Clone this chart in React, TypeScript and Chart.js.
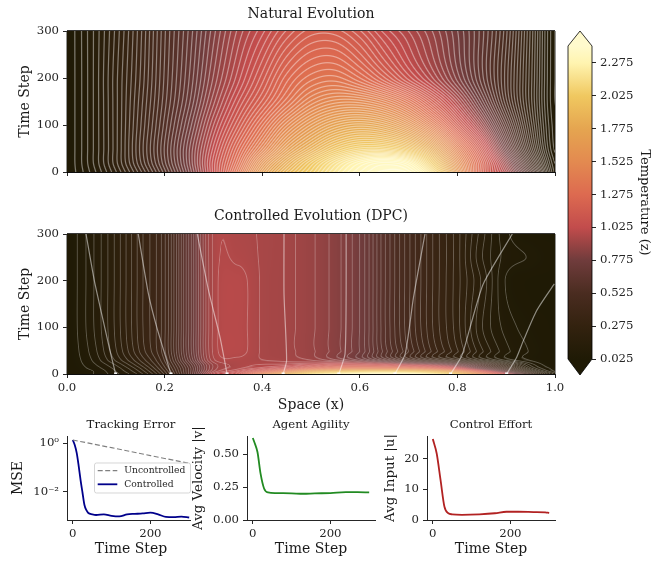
import React, { useEffect, useRef } from "react";
import { Chart, registerables } from "chart.js";

Chart.register(...registerables);

const W = 651;
const H = 561;
const FONT = "'DejaVu Serif', 'Liberation Serif', serif";
const INK = "#262626";

// ---------- field grids (columns at space positions, one row per time step) ----------
const spaceCols = [0, 0.05, 0.1, 0.15, 0.2, 0.25, 0.3, 0.35, 0.4, 0.45, 0.5, 0.55, 0.6, 0.65, 0.7, 0.75, 0.8, 0.85, 0.9, 0.95, 1];

const naturalTimes = [0, 20, 50, 100, 150, 200, 300];
const natural000 = [0.03, 0.11, 0.23, 0.38, 0.56, 0.78, 1.05, 1.35, 1.68, 1.9, 2.06, 2.22, 2.34, 2.4, 2.38, 2.15, 1.65, 1.22, 0.95, 0.55, 0.12];
const natural020 = [0.03, 0.12, 0.25, 0.41, 0.59, 0.8, 1.05, 1.3, 1.6, 1.82, 2.0, 2.16, 2.28, 2.34, 2.28, 2.02, 1.58, 1.22, 0.88, 0.46, 0.1];
const natural050 = [0.03, 0.12, 0.25, 0.42, 0.6, 0.8, 1.02, 1.24, 1.46, 1.68, 1.84, 1.98, 2.06, 2.06, 1.98, 1.78, 1.44, 1.12, 0.74, 0.36, 0.07];
const natural100 = [0.03, 0.12, 0.25, 0.41, 0.58, 0.76, 0.96, 1.14, 1.32, 1.5, 1.64, 1.74, 1.78, 1.74, 1.62, 1.42, 1.16, 0.9, 0.6, 0.3, 0.06];
const natural150 = [0.03, 0.12, 0.25, 0.4, 0.56, 0.72, 0.9, 1.06, 1.2, 1.34, 1.46, 1.52, 1.52, 1.46, 1.34, 1.16, 0.96, 0.74, 0.5, 0.27, 0.05];
const natural200 = [0.03, 0.12, 0.25, 0.39, 0.55, 0.7, 0.86, 1.0, 1.13, 1.26, 1.34, 1.36, 1.3, 1.2, 1.08, 0.96, 0.82, 0.66, 0.48, 0.27, 0.05];
const natural300 = [0.03, 0.12, 0.24, 0.38, 0.54, 0.68, 0.82, 0.94, 1.03, 1.12, 1.18, 1.18, 1.12, 1.03, 0.96, 0.88, 0.78, 0.66, 0.5, 0.28, 0.05];

const controlledTimes = [0, 6, 12, 20, 30, 50, 100, 200, 250, 300];
const controlled000 = [0.03, 0.05, 0.1, 0.18, 0.34, 0.62, 0.98, 1.12, 1.5, 1.85, 2.15, 2.3, 2.36, 2.4, 2.38, 2.25, 2.0, 1.5, 1.05, 0.45, 0.1];
const controlled006 = [0.03, 0.05, 0.11, 0.2, 0.36, 0.62, 0.92, 1.02, 1.2, 1.45, 1.75, 1.9, 2.0, 2.02, 1.98, 1.85, 1.6, 1.15, 0.7, 0.25, 0.05];
const controlled012 = [0.03, 0.06, 0.12, 0.22, 0.38, 0.62, 0.9, 0.97, 1.03, 1.12, 1.28, 1.38, 1.42, 1.42, 1.4, 1.3, 1.1, 0.75, 0.45, 0.15, 0.04];
const controlled020 = [0.03, 0.07, 0.14, 0.25, 0.4, 0.64, 0.9, 0.96, 0.98, 0.99, 1.03, 1.08, 1.08, 1.05, 0.98, 0.9, 0.75, 0.55, 0.3, 0.1, 0.03];
const controlled030 = [0.03, 0.08, 0.17, 0.28, 0.42, 0.68, 0.94, 0.97, 0.95, 0.94, 0.92, 0.87, 0.8, 0.68, 0.54, 0.42, 0.32, 0.2, 0.1, 0.05, 0.03];
const controlled050 = [0.03, 0.09, 0.19, 0.31, 0.44, 0.7, 0.955, 0.99, 0.945, 0.93, 0.9, 0.85, 0.78, 0.63, 0.5, 0.38, 0.28, 0.17, 0.09, 0.05, 0.03];
const controlled100 = [0.03, 0.1, 0.2, 0.32, 0.44, 0.7, 0.955, 0.99, 0.945, 0.93, 0.9, 0.85, 0.78, 0.62, 0.48, 0.36, 0.26, 0.14, 0.07, 0.04, 0.03];
const controlled200 = [0.03, 0.1, 0.2, 0.32, 0.44, 0.7, 0.955, 0.99, 0.945, 0.93, 0.9, 0.85, 0.78, 0.62, 0.48, 0.36, 0.26, 0.16, 0.05, 0.03, 0.03];
const controlled250 = [0.03, 0.1, 0.2, 0.32, 0.44, 0.7, 0.955, 0.97, 0.945, 0.93, 0.9, 0.85, 0.78, 0.62, 0.48, 0.36, 0.26, 0.14, 0.07, 0.05, 0.03];
const controlled300 = [0.03, 0.1, 0.2, 0.32, 0.44, 0.7, 0.955, 0.96, 0.945, 0.93, 0.9, 0.85, 0.78, 0.62, 0.48, 0.36, 0.26, 0.15, 0.06, 0.03, 0.03];

// ---------- agent trajectories ----------
const agent1T = [0, 50, 129, 200, 300];
const agent1X = [0.0997, 0.088, 0.071, 0.056, 0.039];
const agent2T = [0, 100, 171, 300];
const agent2X = [0.213, 0.184, 0.167, 0.146];
const agent3T = [0, 79, 179, 300];
const agent3X = [0.328, 0.3135, 0.29, 0.267];
const agent4T = [0, 29, 171, 300];
const agent4X = [0.443, 0.45, 0.4447, 0.4447];
const agent5T = [0, 43, 171, 300];
const agent5X = [0.557, 0.5697, 0.572, 0.572];
const agent6T = [0, 43, 164, 300];
const agent6X = [0.672, 0.693, 0.71, 0.7336];
const agent7T = [0, 39, 100, 193, 300];
const agent7X = [0.786, 0.809, 0.826, 0.853, 0.9125];
const agent8T = [0, 36, 71, 136, 193];
const agent8X = [0.901, 0.9215, 0.935, 0.9625, 0.9986];

// ---------- colour bar ----------
const cbarTicks = [0.025, 0.275, 0.525, 0.775, 1.025, 1.275, 1.525, 1.775, 2.025, 2.275];
const cbarMin = 0.025;
const cbarMax = 2.404;
const cmapValues = [0.025, 0.275, 0.525, 0.775, 1.025, 1.275, 1.525, 1.775, 2.025, 2.275, 2.404];
const cmapColours = [
  [31, 26, 5], [51, 34, 15], [74, 44, 32], [112, 60, 60], [194, 76, 76], [221, 106, 80],
  [227, 138, 80], [229, 165, 80], [240, 200, 96], [255, 244, 176], [255, 250, 205],
];

// ---------- small panels ----------
const mseT = [0, 5, 10, 15, 20, 25, 30, 35, 40, 50, 60, 80, 100, 120, 140, 160, 180, 200, 220, 240, 260, 280, 300];
const mseControlled = [1.37, 0.85, 0.4, 0.12, 0.03, 0.009, 0.0028, 0.0017, 0.0013, 0.00115, 0.00108, 0.00115, 0.001, 0.00095, 0.00115, 0.0012, 0.00125, 0.00135, 0.00115, 0.0009, 0.00088, 0.00093, 0.00085];
const mseUncontrolledT = [0, 100, 200, 300];
const mseUncontrolled = [1.37, 0.66, 0.31, 0.148];
const agilityT = [0, 5, 12, 20, 29, 39, 60, 100, 130, 160, 200, 240, 270, 300];
const agility = [0.625, 0.585, 0.518, 0.353, 0.24, 0.21, 0.205, 0.203, 0.2, 0.203, 0.205, 0.212, 0.212, 0.21];
const effortT = [0, 10, 20, 30, 40, 50, 75, 120, 160, 190, 220, 260, 290, 300];
const effort = [26.4, 21.7, 13, 4.3, 2.2, 1.85, 1.7, 1.85, 2.2, 2.7, 2.7, 2.6, 2.5, 2.3];

function zip(xs: number[], ys: number[]) {
  return xs.map((x, i) => ({ x, y: ys[i] }));
}

function colourOf(v: number): number[] {
  if (v <= cmapValues[0]) return cmapColours[0];
  for (let i = 1; i < cmapValues.length; i++) {
    if (v <= cmapValues[i]) {
      const f = (v - cmapValues[i - 1]) / (cmapValues[i] - cmapValues[i - 1]);
      const a = cmapColours[i - 1];
      const b = cmapColours[i];
      return [a[0] + (b[0] - a[0]) * f, a[1] + (b[1] - a[1]) * f, a[2] + (b[2] - a[2]) * f];
    }
  }
  return cmapColours[cmapColours.length - 1];
}

function sampleRow(row: number[], x: number) {
  const n = row.length - 1;
  const u = Math.min(Math.max(x, 0), 1) * n;
  const i = Math.min(Math.floor(u), n - 1);
  const f = u - i;
  const p0 = row[Math.max(i - 1, 0)];
  const p1 = row[i];
  const p2 = row[i + 1];
  const p3 = row[Math.min(i + 2, n)];
  return p1 + 0.5 * f * (p2 - p0 + f * (2 * p0 - 5 * p1 + 4 * p2 - p3 + f * (3 * (p1 - p2) + p3 - p0)));
}

function sampleField(times: number[], rows: number[][], x: number, t: number) {
  const n = times.length - 1;
  const tc = Math.min(Math.max(t, times[0]), times[n]);
  let i = 0;
  while (i < n - 1 && tc > times[i + 1]) i++;
  const h = times[i + 1] - times[i];
  const s = (tc - times[i]) / h;
  const z = (k: number) => sampleRow(rows[k], x);
  const z1 = z(i);
  const z2 = z(i + 1);
  const m1 = i > 0 ? (z2 - z(i - 1)) / (times[i + 1] - times[i - 1]) : (z2 - z1) / h;
  const m2 = i + 2 <= n ? (z(i + 2) - z1) / (times[i + 2] - times[i]) : (z2 - z1) / h;
  const s2 = s * s;
  const s3 = s2 * s;
  return (2 * s3 - 3 * s2 + 1) * z1 + (s3 - 2 * s2 + s) * h * m1 + (-2 * s3 + 3 * s2) * z2 + (s3 - s2) * h * m2;
}

function heatPlugin(id: string, times: number[], rows: number[][], lineAlpha: number, step: number, lineReach: number) {
  return {
    id,
    beforeDatasetsDraw(chart: any) {
      const { left, top, right, bottom } = chart.chartArea;
      const w = Math.round(right - left);
      const h = Math.round(bottom - top);
      const xs = chart.scales.x;
      const ys = chart.scales.y;
      const f = new Float32Array((w + 1) * (h + 1));
      for (let j = 0; j <= h; j++) {
        const t = ys.getValueForPixel(top + j + 0.5);
        for (let i = 0; i <= w; i++) {
          f[j * (w + 1) + i] = sampleField(times, rows, xs.getValueForPixel(left + i + 0.5), t);
        }
      }
      const off = document.createElement("canvas");
      off.width = w;
      off.height = h;
      const octx = off.getContext("2d")!;
      const img = octx.createImageData(w, h);
      for (let j = 0; j < h; j++) {
        for (let i = 0; i < w; i++) {
          const v = f[j * (w + 1) + i];
          const gx = f[j * (w + 1) + i + 1] - v;
          const gy = f[(j + 1) * (w + 1) + i] - v;
          const grad = Math.sqrt(gx * gx + gy * gy) + 1e-5;
          const q = (v - 0.025) / step;
          const d = Math.abs(q - Math.round(q)) * step;
          const dist = d / grad;
          const cov = Math.max(0, Math.min(1, lineReach - dist));
          const a = lineAlpha * cov;
          const c = colourOf(v);
          const o = (j * w + i) * 4;
          img.data[o] = c[0] + (255 - c[0]) * a;
          img.data[o + 1] = c[1] + (255 - c[1]) * a;
          img.data[o + 2] = c[2] + (255 - c[2]) * a;
          img.data[o + 3] = 255;
        }
      }
      octx.putImageData(img, 0, 0);
      chart.ctx.drawImage(off, left, top, right - left, bottom - top);
    },
  };
}

const framePlugin = {
  id: "frame",
  afterDraw(chart: any) {
    const { left, top, right, bottom } = chart.chartArea;
    const c = chart.ctx;
    c.save();
    c.lineWidth = 1;
    const seg = (x1: number, y1: number, x2: number, y2: number, col: string) => {
      c.strokeStyle = col;
      c.beginPath();
      c.moveTo(x1, y1);
      c.lineTo(x2, y2);
      c.stroke();
    };
    seg(left, top - 0.5, right, top - 0.5, "rgba(20,20,20,0.85)");
    seg(left, bottom + 0.5, right, bottom + 0.5, "rgba(0,0,0,0.95)");
    seg(left - 0.5, top, left - 0.5, bottom, "rgba(60,60,60,0.55)");
    seg(right + 0.5, top, right + 0.5, bottom, "rgba(60,60,60,0.55)");
    c.restore();
  },
};

const legendPlugin = {
  id: "panelLegend",
  afterDraw(chart: any) {
    const c = chart.ctx;
    const { right, bottom } = chart.chartArea;
    c.save();
    c.clearRect(190.5, bottom - 2, right - 190 + 2, 4);
    c.fillStyle = "rgba(255,255,255,0.8)";
    c.strokeStyle = "rgba(204,204,204,0.8)";
    c.lineWidth = 1;
    c.beginPath();
    c.roundRect(94.5, 463, 96, 30, 2);
    c.fill();
    c.stroke();
    const rows = [470.7, 484.3];
    chart.data.datasets.forEach((ds: any, i: number) => {
      c.strokeStyle = ds.borderColor;
      c.lineWidth = ds.borderWidth;
      c.setLineDash(ds.borderDash || []);
      c.beginPath();
      c.moveTo(97.7, rows[i]);
      c.lineTo(117.3, rows[i]);
      c.stroke();
      c.setLineDash([]);
      c.fillStyle = INK;
      c.font = `9.2px ${FONT}`;
      c.textBaseline = "middle";
      c.fillText(ds.label, 124.3, rows[i]);
    });
    c.restore();
  },
};

const tipsPlugin = {
  id: "cbarTips",
  afterDraw(chart: any) {
    const { left, top, right, bottom } = chart.chartArea;
    const mid = (left + right) / 2;
    const c = chart.ctx;
    c.save();
    const hi = cmapColours[cmapColours.length - 1];
    const lo = cmapColours[0];
    c.fillStyle = `rgb(${hi.join(",")})`;
    c.beginPath();
    c.moveTo(left, top);
    c.lineTo(mid, 31);
    c.lineTo(right, top);
    c.closePath();
    c.fill();
    c.fillStyle = `rgb(${lo.join(",")})`;
    c.beginPath();
    c.moveTo(left, bottom);
    c.lineTo(mid, 375);
    c.lineTo(right, bottom);
    c.closePath();
    c.fill();
    c.strokeStyle = "#000";
    c.lineWidth = 0.8;
    c.beginPath();
    c.moveTo(left, top);
    c.lineTo(mid, 31);
    c.lineTo(right, top);
    c.lineTo(right, bottom);
    c.lineTo(mid, 375);
    c.lineTo(left, bottom);
    c.closePath();
    c.stroke();
    c.restore();
  },
};

function fitY(width: number) {
  return (s: any) => {
    s.width = width;
    s.paddingTop = 0;
    s.paddingBottom = 0;
    s.paddingLeft = 0;
    s.paddingRight = 0;
  };
}
function fitX(height: number) {
  return (s: any) => {
    s.height = height;
    s.paddingLeft = 0;
    s.paddingRight = 0;
    s.paddingTop = 0;
    s.paddingBottom = 0;
  };
}
function setTicks(values: number[]) {
  return (s: any) => {
    s.ticks = values.map((value) => ({ value }));
  };
}

const tickGrid = { display: true, drawOnChartArea: false, drawTicks: true, tickLength: 4, tickColor: INK, lineWidth: 1 };
const TICK_SIZE = 11.7;

function titleOpt(text: string, size: number, bottom: number) {
  return {
    display: true,
    text,
    fullSize: false,
    color: "#1a1a1a",
    font: { family: FONT, size, weight: "normal" },
    padding: { top: 0, bottom },
  };
}
function axisTitle(text: string, size = 14, bottom = 0) {
  return { display: true, text, color: "#1a1a1a", font: { family: FONT, size }, padding: { top: 0, bottom } };
}

function heatConfig(opts: any) {
  const { title, titlePadTop, titleBottom, bottom, xH, showXLabels, xTitle, times, rows, lineAlpha, step, lineReach, agents } = opts;
  const cells: any[] = [];
  times.forEach((t: number, r: number) => spaceCols.forEach((x, c) => cells.push({ x, y: t, v: rows[r][c] })));
  return {
    type: "scatter",
    data: {
      datasets: [
        { label: "field", data: cells, pointRadius: 0, showLine: false },
        ...agents.map(([xs, ts]: number[][]) => ({
          label: "agent",
          data: zip(xs, ts),
          showLine: true,
          borderColor: "rgba(255,255,255,0.5)",
          borderWidth: 1.2,
          tension: 0.2,
          pointRadius: (c: any) => (c.dataIndex === 0 ? 2.2 : 0),
          pointStyle: "rect",
          pointBackgroundColor: "rgba(255,255,255,0.95)",
          pointBorderWidth: 0,
        })),
      ],
    },
    options: {
      responsive: false,
      animation: false,
      devicePixelRatio: 1,
      layout: { padding: { left: 17, right: W - 555, top: titlePadTop, bottom: H - bottom - xH } },
      plugins: { legend: { display: false }, tooltip: { enabled: false }, title: titleOpt(title, 14, titleBottom) },
      scales: {
        x: {
          type: "linear",
          min: 0,
          max: 1,
          afterFit: fitX(xH),
          afterBuildTicks: setTicks([0, 0.2, 0.4, 0.6, 0.8, 1]),
          grid: tickGrid,
          border: { display: false },
          ticks: { display: showXLabels, color: INK, font: { family: FONT, size: TICK_SIZE }, padding: 3, maxRotation: 0, autoSkip: false, callback: (v: any) => Number(v).toFixed(1) },
          title: xTitle ? axisTitle(xTitle) : { display: false },
        },
        y: {
          type: "linear",
          min: 0,
          max: 300,
          afterFit: fitY(50),
          afterBuildTicks: setTicks([0, 100, 200, 300]),
          grid: tickGrid,
          border: { display: false },
          ticks: { color: INK, font: { family: FONT, size: TICK_SIZE }, padding: 4, autoSkip: false, callback: (v: any) => String(v) },
          title: axisTitle("Time Step"),
        },
      },
    },
    plugins: [heatPlugin(opts.id, times, rows, lineAlpha, step, lineReach), framePlugin],
  };
}

function panelConfig(opts: any) {
  const { title, left, right, yW, xMin, xMax, y, yLabel, yLabelSize, datasets, plugins } = opts;
  return {
    type: "line",
    data: { datasets },
    options: {
      responsive: false,
      animation: false,
      devicePixelRatio: 1,
      layout: { padding: { left: left - yW, right: W - right, top: 417.5, bottom: 1 } },
      plugins: { legend: { display: false }, tooltip: { enabled: false }, title: titleOpt(title, 11.7, 4.5) },
      scales: {
        x: {
          type: "linear",
          min: xMin,
          max: xMax,
          afterFit: fitX(40),
          afterBuildTicks: setTicks([0, 200]),
          grid: tickGrid,
          border: { display: true, color: INK, width: 1 },
          ticks: { color: INK, font: { family: FONT, size: TICK_SIZE }, padding: 3, maxRotation: 0, autoSkip: false, callback: (v: any) => String(v) },
          title: axisTitle("Time Step", 14, 2),
        },
        y: {
          afterFit: fitY(yW),
          grid: tickGrid,
          border: { display: true, color: INK, width: 1 },
          title: axisTitle(yLabel, yLabelSize || 14),
          ...y,
          ticks: { color: INK, font: { family: FONT, size: TICK_SIZE }, padding: 4, autoSkip: false, ...y.ticks },
        },
      },
    },
    plugins: plugins || [],
  };
}

function line(label: string, xs: number[], ys: number[], color: string, extra: any = {}) {
  return { label, data: zip(xs, ys), borderColor: color, borderWidth: 1.8, pointRadius: 0, cubicInterpolationMode: "monotone", ...extra };
}

const cbarConfig: any = {
  type: "bar",
  data: {
    labels: ["z"],
    datasets: [
      {
        label: "Temperature",
        data: [[cbarMin, cbarMax]],
        barPercentage: 1,
        categoryPercentage: 1,
        borderWidth: 0,
        backgroundColor: (c: any) => {
          const area = c.chart.chartArea;
          if (!area) return "#888";
          const g = c.chart.ctx.createLinearGradient(0, area.bottom, 0, area.top);
          cmapValues.forEach((v, i) => {
            g.addColorStop((v - cbarMin) / (cbarMax - cbarMin), `rgb(${cmapColours[i].join(",")})`);
          });
          return g;
        },
      },
    ],
  },
  options: {
    responsive: false,
    animation: false,
    devicePixelRatio: 1,
    layout: { padding: { left: 568, right: 0, top: 46, bottom: H - 359 } },
    plugins: { legend: { display: false }, tooltip: { enabled: false } },
    scales: {
      x: { display: false },
      y: {
        position: "right",
        min: cbarMin,
        max: cbarMax,
        afterFit: fitY(W - 592),
        afterBuildTicks: setTicks(cbarTicks),
        grid: tickGrid,
        border: { display: false },
        ticks: { color: INK, font: { family: FONT, size: TICK_SIZE }, padding: 4, autoSkip: false, callback: (v: any) => Number(v).toFixed(3) },
        title: { display: true, text: "Temperature (z)", color: "#1a1a1a", font: { family: FONT, size: 13, lineHeight: 1 }, padding: 0 },
      },
    },
  },
  plugins: [tipsPlugin],
};

function buildConfigs(): any[] {
  return [
    heatConfig({
      id: "heatNatural",
      title: "Natural Evolution",
      titlePadTop: 6.2,
      titleBottom: 8,
      bottom: 172,
      xH: 10,
      showXLabels: false,
      times: naturalTimes,
      rows: [natural000, natural020, natural050, natural100, natural150, natural200, natural300],
      lineAlpha: 0.42,
      step: 0.026,
      lineReach: 1.1,
      agents: [],
    }),
    heatConfig({
      id: "heatControlled",
      title: "Controlled Evolution (DPC)",
      titlePadTop: 208.2,
      titleBottom: 9,
      bottom: 374,
      xH: 40,
      showXLabels: true,
      xTitle: "Space (x)",
      times: controlledTimes,
      rows: [controlled000, controlled006, controlled012, controlled020, controlled030, controlled050, controlled100, controlled200, controlled250, controlled300],
      lineAlpha: 0.3,
      step: 0.028,
      lineReach: 0.9,
      agents: [
        [agent1X, agent1T], [agent2X, agent2T], [agent3X, agent3T], [agent4X, agent4T],
        [agent5X, agent5T], [agent6X, agent6T], [agent7X, agent7T], [agent8X, agent8T],
      ],
    }),
    cbarConfig,
    panelConfig({
      title: "Tracking Error",
      left: 67,
      right: 195,
      yW: 57,
      xMin: -15,
      xMax: 315,
      yLabel: "MSE",
      y: {
        type: "logarithmic",
        min: 0.00067,
        max: 2.0,
        afterBuildTicks: setTicks([1, 0.01]),
        ticks: { callback: (v: any) => (v === 1 ? "10\u2070" : "10\u207B\u00B2") },
      },
      datasets: [
        line("Uncontrolled", mseUncontrolledT, mseUncontrolled, "#808080", { borderDash: [5, 2.5], borderWidth: 1.2, cubicInterpolationMode: "default" }),
        line("Controlled", mseT, mseControlled, "#00008b"),
      ],
      plugins: [legendPlugin],
    }),
    panelConfig({
      title: "Agent Agility",
      left: 247,
      right: 375,
      yW: 57,
      xMin: -15,
      xMax: 315,
      yLabel: "Avg Velocity |v|",
      yLabelSize: 13.4,
      y: {
        type: "linear",
        min: 0,
        max: 0.64,
        afterBuildTicks: setTicks([0, 0.25, 0.5]),
        ticks: { callback: (v: any) => Number(v).toFixed(2) },
      },
      datasets: [line("Velocity", agilityT, agility, "#228b22")],
    }),
    panelConfig({
      title: "Control Effort",
      left: 427,
      right: 555,
      yW: 45,
      xMin: -15,
      xMax: 315,
      yLabel: "Avg Input |u|",
      yLabelSize: 13.4,
      y: {
        type: "linear",
        min: 0,
        max: 27.4,
        afterBuildTicks: setTicks([0, 10, 20]),
        ticks: { callback: (v: any) => String(v) },
      },
      datasets: [line("Input", effortT, effort, "#b22222")],
    }),
  ];
}

export default function App() {
  const host = useRef<HTMLDivElement>(null);
  useEffect(() => {
    const charts: Chart[] = [];
    const nodes: HTMLCanvasElement[] = [];
    buildConfigs().forEach((cfg) => {
      const cv = document.createElement("canvas");
      cv.width = W;
      cv.height = H;
      Object.assign(cv.style, { position: "absolute", left: "0", top: "0", display: "block", width: W + "px", height: H + "px" });
      host.current!.appendChild(cv);
      nodes.push(cv);
      charts.push(new Chart(cv, cfg));
    });
    return () => {
      charts.forEach((c) => c.destroy());
      nodes.forEach((n) => n.remove());
    };
  }, []);
  return <div ref={host} style={{ position: "absolute", left: 0, top: 0, width: W, height: H, background: "#fff", overflow: "hidden" }} />;
}
